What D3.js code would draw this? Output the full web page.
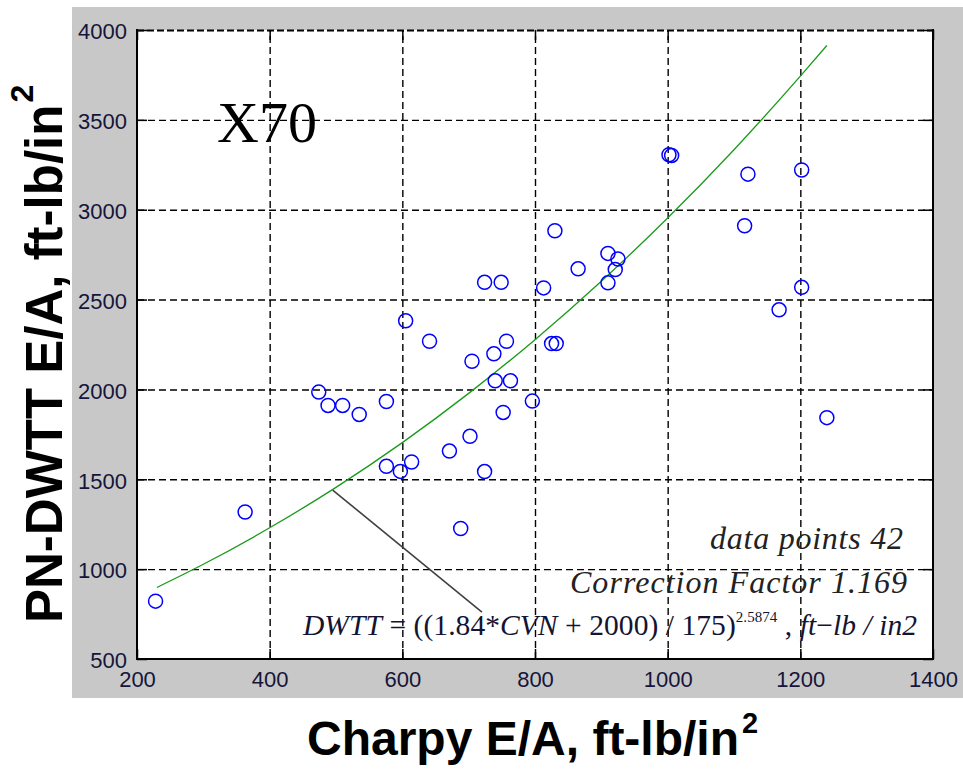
<!DOCTYPE html>
<html><head><meta charset="utf-8">
<script src="https://cdn.jsdelivr.net/npm/d3@7"></script>
<style>html,body{margin:0;padding:0;background:#fff;} svg{display:block}</style>
</head><body>
<svg id="chart" width="963" height="769"></svg>
<script>
// ---- data ----
const charpy = [228, 363, 474, 488, 510, 535, 576, 605, 641, 576, 597, 614, 671, 702, 688, 724, 752, 796, 740, 763, 705,
                738, 757, 825, 832, 724, 749, 813, 830, 865, 910, 925, 921, 910, 1002, 1006, 1116, 1121, 1202, 1202, 1168, 1240];
const dwtt   = [822, 1318, 1985, 1911, 1911, 1861, 1933, 2382, 2268, 1572, 1544, 1596, 1657, 1739, 1226, 1543, 1872, 1935, 2048, 2048, 2157,
                2198, 2268, 2255, 2255, 2596, 2596, 2565, 2883, 2671, 2757, 2726, 2667, 2593, 3306, 3302, 2911, 3198, 3221, 2568, 2443, 1843];
const fitCharpy = [230, 300, 400, 500, 600, 700, 800, 900, 1000, 1100, 1200, 1240];
const fitDwtt   = [898, 1027, 1230, 1455, 1704, 1978, 2277, 2602, 2954, 3334, 3743, 3914];
const xTicks = [200, 400, 600, 800, 1000, 1200, 1400];
const yTicks = [500, 1000, 1500, 2000, 2500, 3000, 3500, 4000];
const xDomain = [200, 1400];
const yDomain = [500, 4000];
const leaderFrom = [495, 1440];
const leaderTo = [720, 761];
const titleText = "X70";
const noteLines = ["data points 42", "Correction Factor 1.169"];

// ---- layout ----
const P = {left: 137, right: 933, top: 30, bottom: 659};
const svg = d3.select('#chart');
const sans = "'Liberation Sans', Arial, Helvetica, sans-serif";
const serif = "'Liberation Serif', 'Times New Roman', serif";

svg.append('rect').attr('x', 72).attr('y', 7).attr('width', 891).attr('height', 691).attr('fill', '#c8c8c8');

const x = d3.scaleLinear().domain(xDomain).range([P.left, P.right]);
const y = d3.scaleLinear().domain(yDomain).range([P.bottom, P.top]);

svg.append('rect').attr('x', P.left).attr('y', P.top)
  .attr('width', P.right - P.left).attr('height', P.bottom - P.top).attr('fill', '#fff');

// grid
const gxGrid = svg.append('g').attr('transform', `translate(0,${P.bottom})`)
  .call(d3.axisBottom(x).tickValues(xTicks.slice(1, -1)).tickSize(-(P.bottom - P.top)).tickFormat(''));
const gyGrid = svg.append('g').attr('transform', `translate(${P.left},0)`)
  .call(d3.axisLeft(y).tickValues(yTicks.slice(1)).tickSize(-(P.right - P.left)).tickFormat(''));
[gxGrid, gyGrid].forEach(g => {
  g.select('.domain').remove();
  g.selectAll('.tick line').attr('stroke', '#000').attr('stroke-width', 1.4).attr('stroke-dasharray', '7,4');
});
gyGrid.selectAll('.tick').filter(d => d === yDomain[1]).select('line').attr('stroke-width', 2.2).attr('stroke-dasharray', '7,3');

// inward tick marks on all four sides
const tl = 10;
const tb = svg.append('g').attr('transform', `translate(0,${P.bottom})`).call(d3.axisBottom(x).tickValues(xTicks).tickSize(-tl).tickFormat(''));
const tt = svg.append('g').attr('transform', `translate(0,${P.top})`).call(d3.axisTop(x).tickValues(xTicks).tickSize(-tl).tickFormat(''));
const tlft = svg.append('g').attr('transform', `translate(${P.left},0)`).call(d3.axisLeft(y).tickValues(yTicks).tickSize(-tl).tickFormat(''));
const trgt = svg.append('g').attr('transform', `translate(${P.right},0)`).call(d3.axisRight(y).tickValues(yTicks).tickSize(-tl).tickFormat(''));
[tb, tt, tlft, trgt].forEach(g => {
  g.select('.domain').remove();
  g.selectAll('.tick line').attr('stroke', '#000').attr('stroke-width', 1.5);
});

// frame
const frame = svg.append('g').attr('fill', 'none').attr('stroke', '#000').attr('stroke-width', 2);
frame.append('line').attr('x1', P.left).attr('x2', P.left).attr('y1', P.top - 1).attr('y2', P.bottom + 1);
frame.append('line').attr('x1', P.left - 1).attr('x2', P.right + 1).attr('y1', P.bottom).attr('y2', P.bottom);
frame.append('line').attr('x1', P.right).attr('x2', P.right).attr('y1', P.top - 1).attr('y2', P.bottom + 1);

// tick labels
const xl = svg.append('g').attr('transform', `translate(0,${P.bottom})`)
  .call(d3.axisBottom(x).tickValues(xTicks).tickSize(0).tickPadding(12).tickFormat(d3.format('d')));
const yl = svg.append('g').attr('transform', `translate(${P.left},0)`)
  .call(d3.axisLeft(y).tickValues(yTicks).tickSize(0).tickPadding(10).tickFormat(d3.format('d')));
[xl, yl].forEach(g => {
  g.select('.domain').remove();
  g.selectAll('text').attr('font-family', sans).attr('font-size', 22).attr('fill', '#15153a');
});
yl.selectAll('text').attr('dy', '0.40em');

// fit curve
const fitPts = fitCharpy.map((c, i) => [c, fitDwtt[i]]);
svg.append('path').datum(fitPts)
  .attr('fill', 'none').attr('stroke', '#1a9a1a').attr('stroke-width', 1.3)
  .attr('d', d3.line().x(d => x(d[0])).y(d => y(d[1])).curve(d3.curveMonotoneX));

// data points
svg.append('g').selectAll('circle').data(charpy.map((c, i) => [c, dwtt[i]])).join('circle')
  .attr('cx', d => x(d[0])).attr('cy', d => y(d[1])).attr('r', 7)
  .attr('fill', 'none').attr('stroke', '#0000ff').attr('stroke-width', 1.5);

// leader line
svg.append('line')
  .attr('x1', x(leaderFrom[0])).attr('y1', y(leaderFrom[1]))
  .attr('x2', x(leaderTo[0])).attr('y2', y(leaderTo[1]))
  .attr('stroke', '#404040').attr('stroke-width', 1.6);

// X70 label
svg.append('text').attr('x', 217).attr('y', 142).attr('font-family', serif).attr('font-size', 58)
  .attr('fill', '#000').text(titleText);

// notes
svg.append('text').attr('x', 903).attr('y', 549).attr('text-anchor', 'end')
  .attr('font-family', serif).attr('font-style', 'italic').attr('font-size', 32).attr('fill', '#222')
  .attr('textLength', 193).attr('lengthAdjust', 'spacing').text(noteLines[0]);
svg.append('text').attr('x', 907).attr('y', 593).attr('text-anchor', 'end')
  .attr('font-family', serif).attr('font-style', 'italic').attr('font-size', 32).attr('fill', '#222')
  .attr('textLength', 337).attr('lengthAdjust', 'spacing').text(noteLines[1]);

// formula
const f = svg.append('text').attr('x', 303).attr('y', 635).attr('font-family', serif).attr('font-size', 29.5)
  .attr('fill', '#141432').attr('textLength', 614).attr('lengthAdjust', 'spacing');
const parts = [
  ['DWTT', true], [' = ((1.84', false], ['*', false], ['CVN', true], [' + 2000) / 175)', false]
];
parts.forEach(p => f.append('tspan').attr('font-style', p[1] ? 'italic' : 'normal').text(p[0]));
f.append('tspan').attr('font-size', 15).attr('dy', -13).text('2.5874');
f.append('tspan').attr('dy', 13).text(' , ');
[['ft', true], ['\u2212', false], ['lb', true], [' / ', true], ['in2', true]]
  .forEach(p => f.append('tspan').attr('font-style', p[1] ? 'italic' : 'normal').text(p[0]));

// axis titles
const xt = svg.append('text').attr('x', 307).attr('y', 755).attr('font-family', sans)
  .attr('font-weight', 'bold').attr('font-size', 48).attr('fill', '#000');
xt.append('tspan').text('Charpy E/A, ft-lb/in');
xt.append('tspan').attr('font-size', 29).attr('dx', 3).attr('dy', -22).text('2');

const yt = svg.append('text').attr('transform', 'translate(62,623) rotate(-90)')
  .attr('font-family', sans).attr('font-weight', 'bold').attr('font-size', 51).attr('fill', '#000');
yt.append('tspan').text('PN-DWTT E/A, ft-lb/in');
yt.append('tspan').attr('font-size', 32).attr('dx', 2).attr('dy', -29).text('2');
</script>
</body></html>
